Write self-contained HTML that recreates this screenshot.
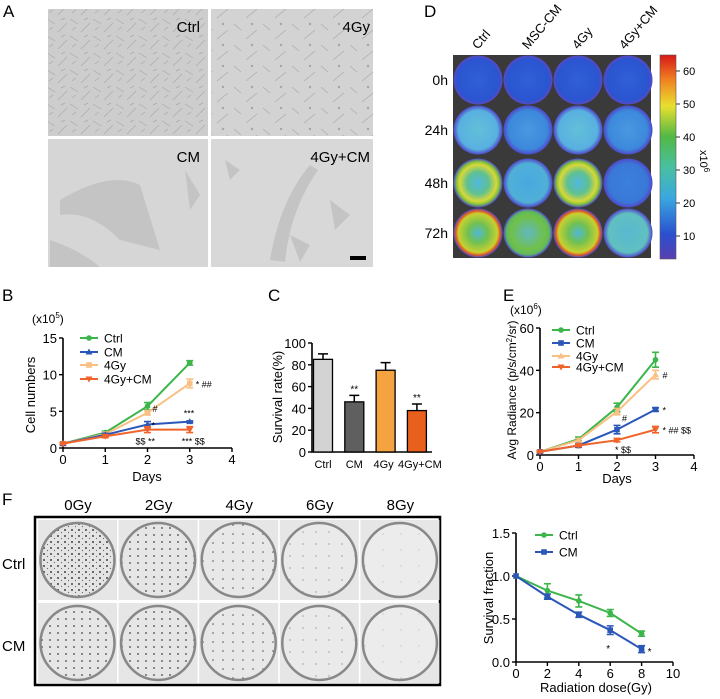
<!DOCTYPE html>
<html><head><meta charset="utf-8"><style>
body{margin:0;background:#fff}
svg{display:block;font-family:"Liberation Sans",Arial,sans-serif}
</style></head><body>
<svg id="fig" width="720" height="699" viewBox="0 0 720 699" xmlns="http://www.w3.org/2000/svg">
<defs>
<pattern id="cellsDense" width="23" height="17" patternUnits="userSpaceOnUse"><rect width="23" height="17" fill="#cdcdcd"/><path d="M1 2 L9 7 M12 15 L21 6 M3 13 L7 10 M15 3 L19 1" stroke="#aaa" stroke-width="0.7"/></pattern>
<pattern id="cellsMid" width="29" height="21" patternUnits="userSpaceOnUse"><rect width="29" height="21" fill="#d3d3d3"/><path d="M2 3 L9 9 M14 18 L25 9" stroke="#ababab" stroke-width="0.7"/><circle cx="20" cy="3" r="1.2" fill="#a5a5a5"/></pattern>
<pattern id="col1" width="7" height="6" patternUnits="userSpaceOnUse"><rect width="7" height="6" fill="#e4e4e4"/><circle cx="2" cy="2" r="1" fill="#444"/><circle cx="5.5" cy="4.5" r="0.6" fill="#666"/></pattern>
<pattern id="col2" width="8" height="7" patternUnits="userSpaceOnUse"><rect width="8" height="7" fill="#e6e6e6"/><circle cx="2" cy="3" r="0.9" fill="#444"/></pattern>
<pattern id="col3" width="10" height="9" patternUnits="userSpaceOnUse"><rect width="10" height="9" fill="#e8e8e8"/><circle cx="3" cy="3" r="0.8" fill="#555"/></pattern>
<pattern id="col4" width="13" height="12" patternUnits="userSpaceOnUse"><rect width="13" height="12" fill="#eaeaea"/><circle cx="4" cy="4" r="0.6" fill="#777"/></pattern>
<pattern id="col5" width="18" height="16" patternUnits="userSpaceOnUse"><rect width="18" height="16" fill="#ececec"/><circle cx="5" cy="6" r="0.5" fill="#999"/></pattern>
<linearGradient id="cbar" x1="0" y1="1" x2="0" y2="0">
<stop offset="0" stop-color="#5a3fb0"/><stop offset="0.12" stop-color="#2a4fd0"/><stop offset="0.3" stop-color="#3aa8e0"/><stop offset="0.45" stop-color="#48c0a0"/><stop offset="0.6" stop-color="#52b844"/><stop offset="0.75" stop-color="#e8e030"/><stop offset="0.88" stop-color="#f08020"/><stop offset="1" stop-color="#d81818"/></linearGradient>
<radialGradient id="w0"><stop offset="0" stop-color="#3060d8"/><stop offset="0.85" stop-color="#2a55d0"/><stop offset="1" stop-color="#5b48c4"/></radialGradient>
<radialGradient id="w24a"><stop offset="0" stop-color="#62c0d8"/><stop offset="0.8" stop-color="#58b0e0"/><stop offset="1" stop-color="#5048c8"/></radialGradient>
<radialGradient id="w24b"><stop offset="0" stop-color="#4a98e0"/><stop offset="0.8" stop-color="#3c88dc"/><stop offset="1" stop-color="#5048c8"/></radialGradient>
<radialGradient id="w48a"><stop offset="0" stop-color="#50b8e0"/><stop offset="0.45" stop-color="#60c090"/><stop offset="0.75" stop-color="#d8d838"/><stop offset="0.88" stop-color="#80c040"/><stop offset="1" stop-color="#5048c8"/></radialGradient>
<radialGradient id="w48b"><stop offset="0" stop-color="#48a8e0"/><stop offset="0.8" stop-color="#50b0d8"/><stop offset="1" stop-color="#5048c8"/></radialGradient>
<radialGradient id="w48c"><stop offset="0" stop-color="#3a80dc"/><stop offset="0.8" stop-color="#3a78d8"/><stop offset="1" stop-color="#5048c8"/></radialGradient>
<radialGradient id="w72a"><stop offset="0" stop-color="#50b8d8"/><stop offset="0.4" stop-color="#70c050"/><stop offset="0.8" stop-color="#c8d030"/><stop offset="0.9" stop-color="#e06020"/><stop offset="1" stop-color="#5048c8"/></radialGradient>
<radialGradient id="w72b"><stop offset="0" stop-color="#60b8c0"/><stop offset="0.7" stop-color="#70c048"/><stop offset="0.88" stop-color="#60b860"/><stop offset="1" stop-color="#5048c8"/></radialGradient>
<radialGradient id="w72c"><stop offset="0" stop-color="#58b8d0"/><stop offset="0.8" stop-color="#60c0c0"/><stop offset="1" stop-color="#5048c8"/></radialGradient>
</defs>

<!-- Panel A -->
<text x="3" y="17" font-size="17">A</text>
<g>
<rect x="48" y="9" width="160" height="127" fill="url(#cellsDense)"/>
<rect x="211" y="9" width="162" height="127" fill="url(#cellsMid)"/>
<rect x="48" y="139" width="160" height="128" fill="#d6d6d6"/>
<rect x="211" y="139" width="162" height="128" fill="#d8d8d8"/>
<path d="M60 200 Q110 170 140 185 L160 250 L120 240 Q90 210 60 215Z M50 240 Q80 250 100 267 L50 267Z M185 170 L200 195 L190 210Z" fill="#c4c4c4"/>
<path d="M270 260 Q280 200 310 165 L318 170 Q290 210 285 262Z M225 160 L240 170 L230 180Z M330 200 L350 215 L335 230Z M290 235 L310 245 L300 262Z" fill="#c4c4c4"/>
<text x="200" y="32" font-size="15" text-anchor="end">Ctrl</text>
<text x="370" y="32" font-size="15" text-anchor="end">4Gy</text>
<text x="200" y="162" font-size="15" text-anchor="end">CM</text>
<text x="370" y="162" font-size="15" text-anchor="end">4Gy+CM</text>
<rect x="350" y="256" width="16" height="4" fill="#000"/>
</g>

<!-- Panel D -->
<text x="424" y="17" font-size="17">D</text>
<g>
<rect x="453" y="55" width="198" height="203" fill="#3a3a3a"/>
<g id="wells"></g>
<rect x="660" y="55" width="16" height="204" fill="url(#cbar)" stroke="#555" stroke-width="0.6"/>
<g id="cbticks" font-size="11"></g>
<text transform="translate(700,150) rotate(90)" font-size="11">x10<tspan dy="-4" font-size="8">6</tspan></text>
<text transform="translate(478,50) rotate(-50)" font-size="13">Ctrl</text>
<text transform="translate(528,50) rotate(-50)" font-size="13">MSC-CM</text>
<text transform="translate(578,50) rotate(-50)" font-size="13">4Gy</text>
<text transform="translate(625,50) rotate(-50)" font-size="13">4Gy+CM</text>
<text x="448" y="85" font-size="14" text-anchor="end">0h</text>
<text x="448" y="135" font-size="14" text-anchor="end">24h</text>
<text x="448" y="188" font-size="14" text-anchor="end">48h</text>
<text x="448" y="238" font-size="14" text-anchor="end">72h</text>
</g>

<!-- Panel B -->
<text x="2" y="301" font-size="17">B</text>
<g id="chartB"></g>
<!-- Panel C -->
<text x="268" y="301" font-size="17">C</text>
<g id="chartC"></g>
<!-- Panel E -->
<text x="503" y="301" font-size="17">E</text>
<g id="chartE"></g>

<!-- Panel F -->
<text x="2" y="505" font-size="17">F</text>
<g>
<rect x="35" y="517" width="405" height="168" fill="#fff" stroke="#000" stroke-width="2.5"/>
<g id="plates"></g>
</g>
<g id="chartF"></g>
</svg>
<script>
// ===== Panel B data =====
const bDays = [0, 1, 2, 3];
const bSeries = ["Ctrl", "CM", "4Gy", "4Gy+CM"];
const bCtrl = [0.6, 2.1, 5.7, 11.6];
const bCtrlErr = [0.1, 0.2, 0.5, 0.3];
const bCM = [0.6, 1.8, 3.2, 3.6];
const bCMErr = [0.1, 0.2, 0.4, 0.1];
const b4Gy = [0.6, 1.9, 4.8, 8.8];
const b4GyErr = [0.1, 0.2, 0.3, 0.6];
const b4GyCM = [0.6, 1.6, 2.5, 2.5];
const b4GyCMErr = [0.1, 0.2, 0.4, 0.4];
const bXTicks = [0, 1, 2, 3, 4];
const bYTicks = [0, 5, 10, 15];
// ===== Panel C data =====
const cCats = ["Ctrl", "CM", "4Gy", "4Gy+CM"];
const cVals = [85, 46, 75, 38];
const cErr = [5, 6, 7, 6];
const cSig = ["", "**", "", "**"];
const cYTicks = [0, 20, 40, 60, 80, 100];
// ===== Panel E data =====
const eDays = [0, 1, 2, 3];
const eCtrl = [1.5, 7.5, 22.5, 45];
const eCtrlErr = [0.5, 1, 2, 3.5];
const eCM = [1.5, 4.5, 12, 21.5];
const eCMErr = [0.5, 0.8, 2, 0.8];
const e4Gy = [1.5, 7, 20.5, 38];
const e4GyErr = [0.5, 0.8, 1.5, 2];
const e4GyCM = [1.5, 4.5, 7, 12];
const e4GyCMErr = [0.3, 0.5, 0.8, 1.5];
const eXTicks = [0, 1, 2, 3, 4];
const eYTicks = [0, 20, 40, 60];
// ===== Panel F data =====
const fDoses = [0, 2, 4, 6, 8];
const fCtrl = [1, 0.83, 0.71, 0.57, 0.33];
const fCtrlErr = [0, 0.08, 0.07, 0.04, 0.03];
const fCM = [1, 0.76, 0.55, 0.37, 0.15];
const fCMErr = [0, 0.03, 0.03, 0.05, 0.04];
const fXTicks = [0, 2, 4, 6, 8, 10];
const fYTicks = [0, 0.5, 1.0, 1.5];
const fYTickLabels = ["0.0", "0.5", "1.0", "1.5"];
// D colour bar ticks
const cbTicks = [10, 20, 30, 40, 50, 60];

const NS = "http://www.w3.org/2000/svg";
const GREEN = "#3cb54a", BLUE = "#2b58b8", LORANGE = "#f9bf83", ORANGE = "#f0632a";
function mk(parent, tag, attrs, text) {
  const e = document.createElementNS(NS, tag);
  for (const k in attrs) e.setAttribute(k, attrs[k]);
  if (text !== undefined) e.textContent = text;
  parent.appendChild(e);
  return e;
}
function axes(g, sx, sy, xt, yt, x0, x1, y0, y1, ytl, name) {
  const ax = mk(g, "path", {d: `M${x0} ${y1} L${x0} ${y0} L${x1} ${y0}`, fill: "none", stroke: "#000", "stroke-width": 1.6});
  
  
  xt.forEach(v => {
    mk(g, "line", {x1: sx(v), x2: sx(v), y1: y0, y2: y0 + 4, stroke: "#000", "stroke-width": 1.4});
    const t = mk(g, "text", {x: sx(v), y: y0 + 16, "font-size": 13, "text-anchor": "middle"}, String(v));
    
    
  });
  yt.forEach((v, i) => {
    mk(g, "line", {x1: x0 - 4, x2: x0, y1: sy(v), y2: sy(v), stroke: "#000", "stroke-width": 1.4});
    const t = mk(g, "text", {x: x0 - 6, y: sy(v) + 5, "font-size": 13, "text-anchor": "end"}, ytl ? ytl[i] : String(v));
    
    
  });
}
function series(g, sx, sy, xs, ys, es, color, marker, name) {
  const s = mk(g, "g", {});
  
  
  mk(s, "polyline", {points: xs.map((x, i) => sx(x) + "," + sy(ys[i])).join(" "), fill: "none", stroke: color, "stroke-width": 2});
  xs.forEach((x, i) => {
    const cx = sx(x), cy = sy(ys[i]);
    if (es[i] > 0) {
      const t = sy(ys[i] + es[i]), b = sy(ys[i] - es[i]);
      mk(s, "path", {d: `M${cx} ${t} L${cx} ${b} M${cx-3.5} ${t} L${cx+3.5} ${t} M${cx-3.5} ${b} L${cx+3.5} ${b}`, stroke: color, "stroke-width": 1.6, fill: "none"});
    }
    marker(s, cx, cy, color);
  });
}
const mCircle = (g, x, y, c) => mk(g, "circle", {cx: x, cy: y, r: 2.8, fill: c});
const mSquare = (g, x, y, c) => mk(g, "rect", {x: x - 2.8, y: y - 2.8, width: 5.6, height: 5.6, fill: c});
const mTri = (g, x, y, c) => mk(g, "path", {d: `M${x} ${y-3.5} L${x+3.5} ${y+2.5} L${x-3.5} ${y+2.5}Z`, fill: c});
const mTriD = (g, x, y, c) => mk(g, "path", {d: `M${x} ${y+3.5} L${x+3.5} ${y-2.5} L${x-3.5} ${y-2.5}Z`, fill: c});
function legend(g, x, ys, labels, colors, markers) {
  labels.forEach((l, i) => {
    const e = mk(g, "g", {});
    
    
    mk(e, "line", {x1: x, x2: x + 18, y1: ys[i], y2: ys[i], stroke: colors[i], "stroke-width": 2});
    markers[i](e, x + 9, ys[i], colors[i]);
    mk(e, "text", {x: x + 24, y: ys[i] + 4.5, "font-size": 12}, l);
  });
}
function txt(g, attrs, s, name) {
  const t = mk(g, "text", attrs, s);
  
  
  return t;
}

// ----- Chart B -----
(function () {
  const g = document.getElementById("chartB");
  const sx = d => 63 + d * 42.25, sy = v => 448 - v * 110 / 15;
  axes(g, sx, sy, bXTicks, bYTicks, 63, 232, 448, 338, null, "b");
  series(g, sx, sy, bDays, bCtrl, bCtrlErr, GREEN, mCircle, "series-ctrl");
  series(g, sx, sy, bDays, b4Gy, b4GyErr, LORANGE, mSquare, "series-4gy");
  series(g, sx, sy, bDays, bCM, bCMErr, BLUE, mTri, "series-cm");
  series(g, sx, sy, bDays, b4GyCM, b4GyCMErr, ORANGE, mTriD, "series-4gy-cm");
  legend(g, 80, [338, 352, 365, 379], bSeries, [GREEN, BLUE, LORANGE, ORANGE], [mCircle, mTri, mSquare, mTriD]);
  txt(g, {x: 32, y: 323, "font-size": 12}, "", "b-unit").innerHTML = '(x10<tspan dy="-5" font-size="8">5</tspan><tspan dy="5">)</tspan>';
  txt(g, {transform: "translate(35,395) rotate(-90)", "font-size": 13, "text-anchor": "middle"}, "Cell numbers", "b-y-axis-title");
  txt(g, {x: 147, y: 481, "font-size": 13, "text-anchor": "middle"}, "Days", "b-x-axis-title");
  txt(g, {x: sx(3) + 6, y: sy(b4Gy[3]) + 4, "font-size": 9}, "* ##", "b-sig");
  txt(g, {x: sx(2) + 5, y: sy(b4Gy[2]) - 1, "font-size": 9}, "#", "b-sig");
  txt(g, {x: sx(2) + 4, y: sy(bCM[2]) + 4, "font-size": 9}, "*", "b-sig");
  txt(g, {x: sx(3) - 6, y: sy(bCM[3]) - 5, "font-size": 9}, "***", "b-sig");
  txt(g, {x: sx(2) - 12, y: sy(b4GyCM[2]) + 15, "font-size": 9}, "$$ **", "b-sig");
  txt(g, {x: sx(3) - 8, y: sy(b4GyCM[3]) + 15, "font-size": 9}, "*** $$", "b-sig");
})();

// ----- Chart C -----
(function () {
  const g = document.getElementById("chartC");
  const y0 = 452, sy = v => y0 - v * 1.09;
  const bx = i => 323 + i * 31.3;
  const cols = ["#d3d3d3", "#5f5f5f", "#f4a340", "#e8601c"];
  axes(g, bx, sy, [], cYTicks, 312, 432, y0, 343, null, "c");
  cCats.forEach((c, i) => {
    const b = mk(g, "rect", {x: bx(i) - 9.5, y: sy(cVals[i]), width: 19, height: y0 - sy(cVals[i]), fill: cols[i], stroke: "#000", "stroke-width": 1.3});
    
    
    const t = sy(cVals[i] + cErr[i]);
    mk(g, "path", {d: `M${bx(i)} ${sy(cVals[i])} L${bx(i)} ${t} M${bx(i)-5} ${t} L${bx(i)+5} ${t}`, stroke: "#000", "stroke-width": 1.5});
    txt(g, {x: bx(i) + (i === 3 ? 3 : (i === 2 ? -2 : 0)), y: 468, "font-size": 11, "text-anchor": "middle"}, c, "c-category-label");
    if (cSig[i]) txt(g, {x: bx(i), y: t - 3, "font-size": 10, "text-anchor": "middle"}, cSig[i], "c-sig");
  });
  txt(g, {transform: "translate(282,397) rotate(-90)", "font-size": 13, "text-anchor": "middle"}, "Survival rate(%)", "c-y-axis-title");
})();

// ----- Chart E -----
(function () {
  const g = document.getElementById("chartE");
  const sx = d => 540 + d * 38.5, sy = v => 455 - v * 127 / 60;
  axes(g, sx, sy, eXTicks, eYTicks, 540, 694, 455, 328, null, "e");
  series(g, sx, sy, eDays, eCtrl, eCtrlErr, GREEN, mCircle, "series-ctrl");
  series(g, sx, sy, eDays, e4Gy, e4GyErr, LORANGE, mTri, "series-4gy");
  series(g, sx, sy, eDays, eCM, eCMErr, BLUE, mSquare, "series-cm");
  series(g, sx, sy, eDays, e4GyCM, e4GyCMErr, ORANGE, mTriD, "series-4gy-cm");
  legend(g, 552, [330, 343, 356, 367], bSeries, [GREEN, BLUE, LORANGE, ORANGE], [mCircle, mSquare, mTri, mTriD]);
  txt(g, {x: 510, y: 314, "font-size": 12}, "", "e-unit").innerHTML = '(x10<tspan dy="-5" font-size="8">6</tspan><tspan dy="5">)</tspan>';
  txt(g, {transform: "translate(516,390) rotate(-90)", "font-size": 12, "text-anchor": "middle"}, "", "e-y-axis-title").innerHTML = 'Avg Radiance (p/s/cm<tspan dy="-4" font-size="8">2</tspan><tspan dy="4">/sr)</tspan>';
  txt(g, {x: 617, y: 483, "font-size": 13, "text-anchor": "middle"}, "Days", "e-x-axis-title");
  txt(g, {x: sx(3) + 7, y: sy(e4Gy[3]) + 4, "font-size": 9}, "#", "e-sig");
  txt(g, {x: sx(2) + 5, y: sy(e4Gy[2]) + 10, "font-size": 9}, "#", "e-sig");
  txt(g, {x: sx(3) + 7, y: sy(eCM[3]) + 4, "font-size": 9}, "*", "e-sig");
  txt(g, {x: sx(3) + 7, y: sy(e4GyCM[3]) + 4, "font-size": 9}, "* ## $$", "e-sig");
  txt(g, {x: sx(2) - 2, y: sy(e4GyCM[2]) + 13, "font-size": 9}, "* $$", "e-sig");
})();

// ----- Chart F -----
(function () {
  const g = document.getElementById("chartF");
  const sx = d => 516 + d * 15.7, sy = v => 662 - v * 86;
  axes(g, sx, sy, fXTicks, fYTicks, 516, 673, 662, 533, fYTickLabels, "f");
  series(g, sx, sy, fDoses, fCtrl, fCtrlErr, GREEN, mCircle, "series-ctrl");
  series(g, sx, sy, fDoses, fCM, fCMErr, BLUE, mSquare, "series-cm");
  legend(g, 535, [535, 552], ["Ctrl", "CM"], [GREEN, BLUE], [mCircle, mSquare]);
  txt(g, {transform: "translate(493,598) rotate(-90)", "font-size": 13, "text-anchor": "middle"}, "Survival fraction", "f-y-axis-title");
  txt(g, {x: 596, y: 692, "font-size": 13, "text-anchor": "middle"}, "Radiation dose(Gy)", "f-x-axis-title");
  txt(g, {x: sx(6) - 4, y: sy(fCM[3]) + 22, "font-size": 10}, "*", "f-sig");
  txt(g, {x: sx(8) + 6, y: sy(fCM[4]) + 6, "font-size": 10}, "*", "f-sig");
})();

// ----- Wells (Panel D) -----
(function () {
  const g = document.getElementById("wells");
  const fills = [["w0","w0","w0","w0"],["w24a","w24b","w24a","w24b"],["w48a","w48b","w48a","w48c"],["w72a","w72b","w72a","w72c"]];
  const rows = [80, 130, 183, 233], cols = [478, 528, 578, 628];
  rows.forEach((ry, r) => cols.forEach((cx, c) => {
    const w = mk(g, "circle", {cx: cx, cy: ry, r: 24.5, fill: "url(#" + fills[r][c] + ")"});
    
    
  }));
  const tg = document.getElementById("cbticks");
  cbTicks.forEach(v => {
    const y = 236 - (v - 10) * 3.3;
    mk(tg, "line", {x1: 676, x2: 680, y1: y, y2: y, stroke: "#333"});
    const t = mk(tg, "text", {x: 683, y: y + 4, "font-size": 11}, String(v));
    
    
  });
})();

// ----- Plates (Panel F) -----
(function () {
  const g = document.getElementById("plates");
  const doses = ["0Gy", "2Gy", "4Gy", "6Gy", "8Gy"];
  const pats = [["col1","col2","col3","col4","col5"],["col2","col2","col3","col4","col5"]];
  doses.forEach((d, c) => {
    const x = 38 + c * 80.6;
    const t = mk(g, "text", {x: x + 40, y: 510, "font-size": 15, "text-anchor": "middle"}, d);
    
    
    [0, 1].forEach(r => {
      const y = 520 + r * 83;
      mk(g, "rect", {x: x, y: y, width: 79, height: 80, fill: "#e6e6e6"});
      const p = mk(g, "circle", {cx: x + 39.5, cy: y + 40, r: 37, fill: "url(#" + pats[r][c] + ")", stroke: "#888", "stroke-width": 2.5});
      
      
    });
  });
  [["Ctrl", 564], ["CM", 646]].forEach(([l, y]) => {
    const t = mk(g, "text", {x: 2, y: y + 5, "font-size": 15}, l);
    
    
  });
})();
</script>
</body></html>
